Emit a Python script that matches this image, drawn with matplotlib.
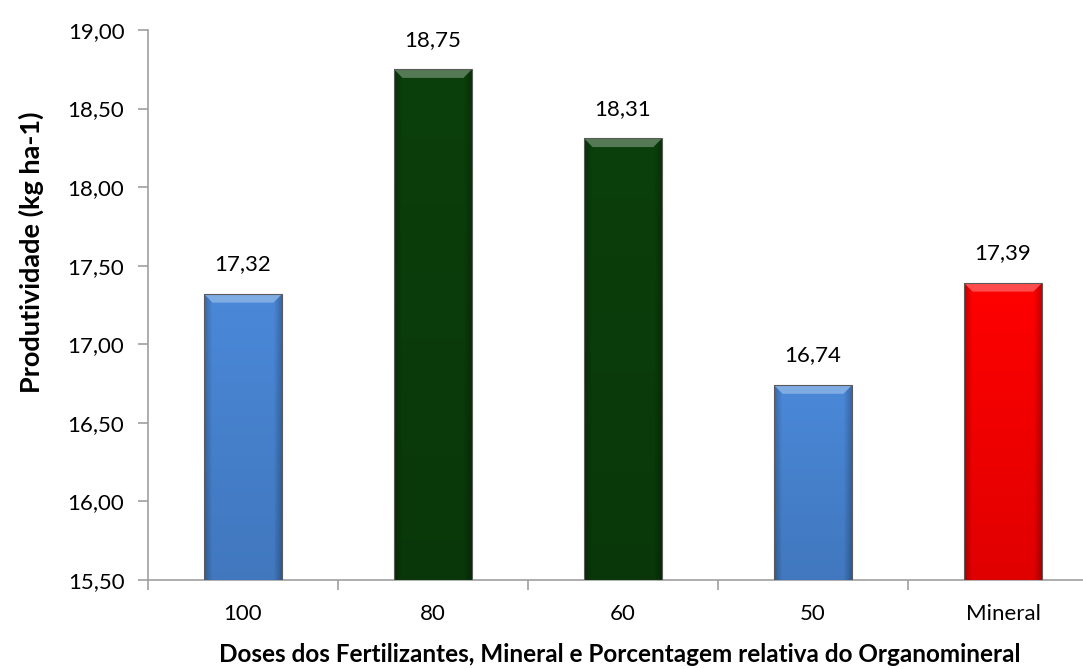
import matplotlib.pyplot as plt
from matplotlib.ticker import FuncFormatter, MultipleLocator, FixedLocator
from matplotlib.patches import Polygon
from matplotlib.colors import to_rgb
import numpy as np

categories = ['100', '80', '60', '50', 'Mineral']
values = [17.32, 18.75, 18.31, 16.74, 17.39]
bar_colors = ['#4a88d8', '#0b3f0b', '#0b3f0b', '#4a88d8', '#ff0000']

plt.rcParams['font.family'] = ['Lato', 'DejaVu Sans']

fig = plt.figure(figsize=(10.83, 6.69), dpi=100)
# axis runs past the right edge like in the original
ax = fig.add_axes([148 / 1083, 89 / 669, 950 / 1083, 550 / 669])

x = np.arange(len(categories))
width = 0.41
ymin, ymax = 15.5, 19.0
bars = ax.bar(x, np.array(values) - ymin, bottom=ymin, width=width,
              color='none', edgecolor='#5a5a5a', linewidth=0.8, zorder=5)

# shaded fill + top bevel for each bar
for b, c in zip(bars, bar_colors):
    x0, w = b.get_x(), b.get_width()
    top = b.get_y() + b.get_height()
    base = np.array(to_rgb(c))
    u = np.linspace(-1, 1, 60)
    edge = np.clip((np.abs(u) - 0.8) / 0.2, 0, 1)
    v = np.linspace(0, 1, 100)[:, None]
    shade = 1 - 0.22 * edge[None, :] - 0.12 * (1 - v)
    img = np.clip(base[None, None, :] * shade[:, :, None], 0, 1)
    ax.imshow(img, extent=[x0, x0 + w, ymin, top], origin='lower',
              aspect='auto', zorder=3, interpolation='bilinear')
    dx, dy = 0.045, 0.055
    light = base + (1 - base) * 0.3
    ax.add_patch(Polygon([(x0, top), (x0 + w, top), (x0 + w - dx, top - dy),
                          (x0 + dx, top - dy)], closed=True,
                         facecolor=light, edgecolor='none', zorder=4))

for xi, v in zip(x, values):
    ax.text(xi, v + 0.15, f'{v:.2f}'.replace('.', ','), ha='center',
            va='baseline', fontsize=16, color='black')

ax.set_xlim(-0.5, len(categories) - 0.5)
ax.set_ylim(ymin, ymax)
ax.yaxis.set_major_locator(MultipleLocator(0.5))
ax.yaxis.set_major_formatter(FuncFormatter(lambda v, p: f'{v:.2f}'.replace('.', ',')))

ax.set_xticks(x)
ax.set_xticklabels(categories)
ax.xaxis.set_minor_locator(FixedLocator(np.arange(-0.5, len(categories), 1.0)))
ax.tick_params(axis='x', which='major', length=0, pad=17, labelsize=16)
ax.tick_params(axis='x', which='minor', length=7, color='#a0a0a0', width=1.2)
ax.tick_params(axis='y', length=7, color='#a0a0a0', width=1.2, labelsize=16, pad=10)

for s in ['top', 'right']:
    ax.spines[s].set_visible(False)
for s in ['left', 'bottom']:
    ax.spines[s].set_color('#a0a0a0')
    ax.spines[s].set_linewidth(1.2)

ax.set_ylabel('Produtividade (kg ha-1)', fontsize=19.5, fontweight='bold')
ax.yaxis.set_label_coords(-(148 - 44) / 950, (580 - 252) / 550)
fig.text(620 / 1083, 1 - 655 / 669,
         'Doses dos Fertilizantes, Mineral e Porcentagem relativa do Organomineral',
         ha='center', va='center', fontsize=17.5, fontweight='bold')

fig.savefig('out.png', dpi=100)
